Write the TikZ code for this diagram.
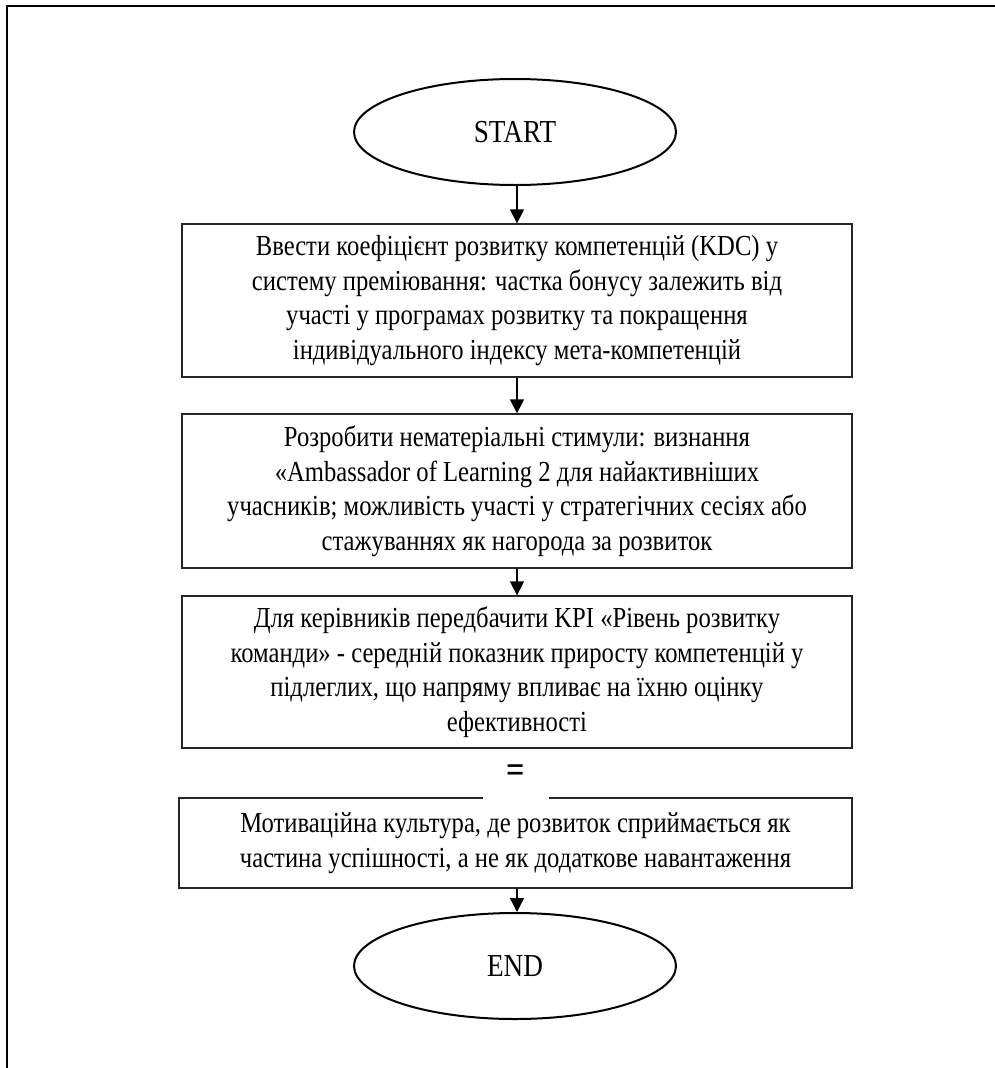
\documentclass[tikz,border=0pt]{standalone}
\usepackage{fontspec}
% narrow, tall serif face
\setmainfont[FakeStretch=0.85]{Liberation Serif}
\usetikzlibrary{shapes.geometric,arrows.meta}
\begin{document}
\begin{tikzpicture}[x=1pt,y=-1pt,
  stepbox/.style={draw=black!85, line width=1.3pt, rectangle, align=center,
    inner sep=0pt, minimum width=670pt, font=\fontsize{29}{34.5}\selectfont},
  terminal/.style={draw, ellipse, line width=2pt, minimum width=322pt,
    minimum height=106pt, inner sep=0pt, font=\fontsize{32}{36}\selectfont},
  flow/.style={line width=1.3pt, -{Triangle[width=14pt,length=14pt]}}]
\useasboundingbox (0,0) rectangle (995,1068);
% outer frame (top and left edges only)
\draw[line width=2.4pt] (995,6) -- (7,6) -- (7,1068);

\node[terminal] (start) at (515,132) {START};

\node[stepbox, minimum height=153pt] (b1) at (517,300.5)
  {Ввести коефіцієнт розвитку компетенцій (KDC) у\\
   систему преміювання: частка бонусу залежить від\\
   участі у програмах розвитку та покращення\\
   індивідуального індексу мета-компетенцій};

\node[stepbox, minimum height=154pt] (b2) at (517,491)
  {Розробити нематеріальні стимули: визнання\\
   «Ambassador of Learning 2 для найактивніших\\
   учасників; можливість участі у стратегічних сесіях або\\
   стажуваннях як нагорода за розвиток};

\node[stepbox, minimum height=152pt] (b3) at (517,672)
  {Для керівників передбачити KPI «Рівень розвитку\\
   команди» - середній показник приросту компетенцій у\\
   підлеглих, що напряму впливає на їхню оцінку\\
   ефективності};

\node[stepbox, minimum width=673pt, minimum height=90pt] (b4) at (515.5,843)
  {Мотиваційна культура, де розвиток сприймається як\\
   частина успішності, а не як додаткове навантаження};

% the equals sign sits on a white patch that cuts the top edge of b4
\node[fill=white, inner sep=0pt, minimum width=66pt, minimum height=50pt,
  font=\fontsize{38}{40}\selectfont\bfseries] (eq) at (516,773.5) {=};

\node[terminal] (end) at (515,966) {END};

\draw[flow] (start.south -| b1.north) -- (b1.north);
\draw[flow] (b1.south) -- (b2.north);
\draw[flow] (b2.south) -- (b3.north);
\draw[flow] (b4.south -| b1.north) -- (end.north -| b1.north);
\end{tikzpicture}
\end{document}
